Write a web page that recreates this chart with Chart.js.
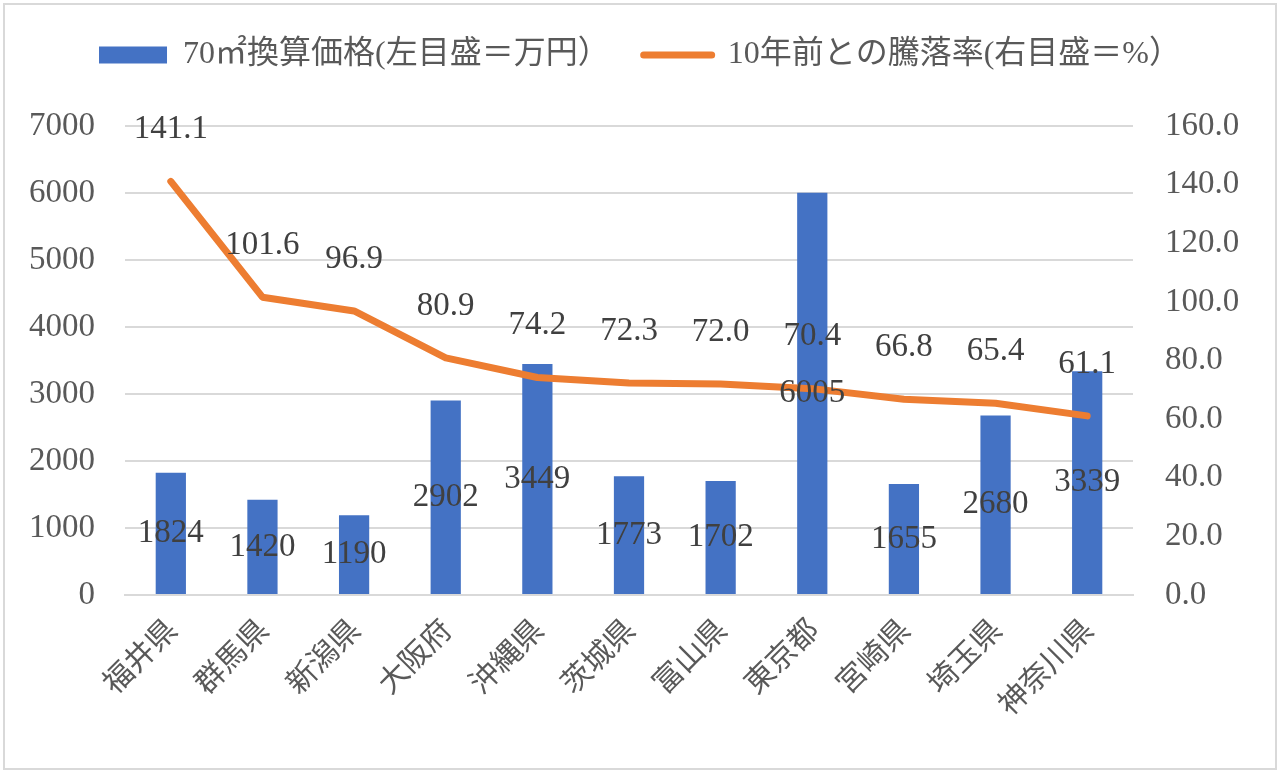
<!DOCTYPE html>
<html>
<head>
<meta charset="utf-8">
<script src="https://cdn.jsdelivr.net/npm/chart.js@4"></script>
<style>
  html, body { margin: 0; padding: 0; background: #fff; }
  #wrap { width: 1280px; height: 773px; }
</style>
</head>
<body>
<div id="wrap"><canvas id="chart" width="1280" height="773"></canvas></div>
<script>
const prefectures = ['福井県', '群馬県', '新潟県', '大阪府', '沖縄県', '茨城県', '富山県', '東京都', '宮崎県', '埼玉県', '神奈川県'];
const prices = [1824, 1420, 1190, 2902, 3449, 1773, 1702, 6005, 1655, 2680, 3339];
const rates = [141.1, 101.6, 96.9, 80.9, 74.2, 72.3, 72.0, 70.4, 66.8, 65.4, 61.1];
const seriesNames = ['70㎡換算価格(左目盛＝万円）', '10年前との騰落率(右目盛＝%）'];

const SERIF = '"Liberation Serif", "Noto Sans CJK JP", serif';
const textColor = '#595959';
const gridColor = '#d9d9d9';

// white page + thin frame around it
const frame = {
    id: 'frame',
    beforeInit(chart) {
        // leave room between the legend and the plot
        const fit = chart.legend.fit;
        chart.legend.fit = function() {
            fit.call(this);
            this.height += 45;
        };
    },
    beforeDraw(chart) {
        const ctx = chart.ctx;
        ctx.save();
        ctx.fillStyle = '#fff';
        ctx.fillRect(0, 0, chart.width, chart.height);
        ctx.strokeStyle = '#d9d9d9';
        ctx.lineWidth = 2;
        ctx.strokeRect(4, 4, chart.width - 8, chart.height - 8);
        ctx.restore();
    }
};

// value labels: bars in the middle, line above the point
const valueLabels = {
    id: 'valueLabels',
    afterDatasetsDraw(chart) {
        const ctx = chart.ctx;
        ctx.save();
        ctx.font = '33px ' + SERIF;
        ctx.fillStyle = '#404040';
        ctx.textAlign = 'center';
        ctx.textBaseline = 'middle';
        chart.getDatasetMeta(0).data.forEach((bar, i) => {
            ctx.fillText(String(prices[i]), bar.x, (bar.y + bar.base) / 2);
        });
        chart.getDatasetMeta(1).data.forEach((pt, i) => {
            ctx.fillText(rates[i].toFixed(1), pt.x, pt.y - 52);
        });
        ctx.restore();
    }
};

const ctx = document.getElementById('chart').getContext('2d');
const chart = new Chart(ctx, {
    type: 'bar',
    data: {
        labels: prefectures,
        datasets: [
            {
                type: 'bar',
                label: seriesNames[0],
                data: prices,
                backgroundColor: '#4472c4',
                barPercentage: 0.33,
                categoryPercentage: 1,
                yAxisID: 'y',
                order: 1
            },
            {
                type: 'line',
                label: seriesNames[1],
                data: rates,
                borderColor: '#ed7d31',
                backgroundColor: '#ed7d31',
                borderWidth: 7,
                pointRadius: 0,
                borderJoinStyle: 'round',
                borderCapStyle: 'round',
                tension: 0,
                yAxisID: 'y1',
                order: 0
            }
        ]
    },
    options: {
        responsive: false,
        animation: false,
        devicePixelRatio: 1,
        layout: { padding: { top: 5, left: 0, right: 0, bottom: 0 } },
        plugins: {
            tooltip: { enabled: false },
            legend: {
                display: true,
                position: 'top',
                labels: {
                    color: textColor,
                    font: { family: SERIF, size: 32 },
                    usePointStyle: true,
                    pointStyleWidth: 68,
                    boxHeight: 17,
                    padding: 34,
                    generateLabels(chart) {
                        return chart.data.datasets.map((ds, i) => ({
                            text: ds.label,
                            datasetIndex: i,
                            fillStyle: i === 0 ? '#4472c4' : '#ed7d31',
                            strokeStyle: '#ed7d31',
                            lineWidth: i === 0 ? 0 : 7,
                            lineCap: 'round',
                            pointStyle: i === 0 ? 'rect' : 'line',
                            fontColor: textColor,
                            hidden: false
                        }));
                    }
                }
            }
        },
        scales: {
            x: {
                grid: { display: false },
                border: { display: true, color: gridColor, width: 2 },
                ticks: {
                    color: textColor,
                    font: { family: '"Noto Sans CJK JP", sans-serif', size: 30 },
                    minRotation: 45,
                    maxRotation: 45,
                    padding: 8
                },
                afterFit(scale) { scale.height = 178; }
            },
            y: {
                position: 'left',
                min: 0,
                max: 7000,
                grid: { color: gridColor, lineWidth: 2, drawTicks: false },
                border: { display: false },
                ticks: {
                    stepSize: 1000,
                    color: textColor,
                    font: { family: SERIF, size: 33 },
                    padding: 30,
                    callback: v => String(v)
                },
                afterFit(scale) { scale.width = 125; }
            },
            y1: {
                position: 'right',
                min: 0,
                max: 160,
                grid: { display: false, drawTicks: false },
                border: { display: false },
                ticks: {
                    stepSize: 20,
                    color: textColor,
                    font: { family: SERIF, size: 33 },
                    padding: 32,
                    callback: v => Number(v).toFixed(1)
                },
                afterFit(scale) { scale.width = 147; }
            }
        }
    },
    plugins: [frame, valueLabels]
});
</script>
</body>
</html>
